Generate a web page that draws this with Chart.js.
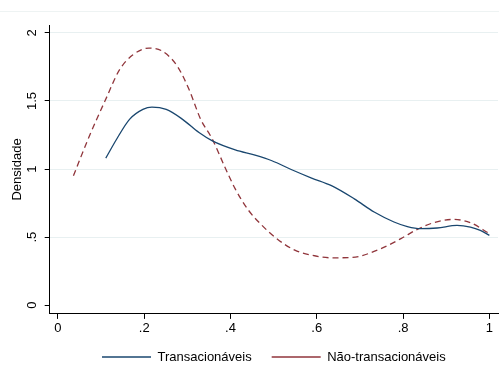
<!DOCTYPE html>
<html>
<head>
<meta charset="utf-8">
<script src="https://cdn.jsdelivr.net/npm/chart.js@4/dist/chart.umd.min.js"></script>
<style>
  html, body { margin: 0; padding: 0; background: #fff; }
  #wrap { width: 499px; height: 374px; }
</style>
</head>
<body>
<div id="wrap"><canvas id="densChart" width="499" height="374"></canvas></div>
<script>
// valores (densidade kernel)
const transX = [0.111, 0.136, 0.166, 0.197, 0.218, 0.251, 0.289, 0.327, 0.358, 0.411, 0.457, 0.496, 0.542, 0.588, 0.634, 0.687, 0.733, 0.779, 0.810, 0.841, 0.879, 0.925, 0.956, 0.979, 1.0];
const transY = [1.080, 1.219, 1.365, 1.438, 1.455, 1.438, 1.365, 1.268, 1.207, 1.141, 1.102, 1.061, 0.995, 0.934, 0.878, 0.781, 0.684, 0.611, 0.577, 0.562, 0.567, 0.586, 0.574, 0.550, 0.513];

const naoX = [0.036, 0.073, 0.109, 0.143, 0.174, 0.211, 0.243, 0.277, 0.304, 0.331, 0.358, 0.389, 0.411, 0.442, 0.473, 0.507, 0.549, 0.588, 0.634, 0.680, 0.749, 0.795, 0.833, 0.871, 0.917, 0.956, 1.0];
const naoY = [0.951, 1.243, 1.499, 1.730, 1.839, 1.888, 1.864, 1.754, 1.584, 1.365, 1.219, 1.000, 0.854, 0.696, 0.586, 0.489, 0.404, 0.367, 0.348, 0.350, 0.416, 0.489, 0.557, 0.606, 0.630, 0.606, 0.526];

const xTicks = [0, 0.2, 0.4, 0.6, 0.8, 1];
const yTicks = [0, 0.5, 1, 1.5, 2];
const seriesNames = ["Transacionáveis", "Não-transacionáveis"];

function toPoints(xs, ys) {
    var pts = [];
    for (let i = 0; i < xs.length; i++) {
        pts.push({ x: xs[i], y: ys[i] });
    }
    return pts;
}

function fmtTick(v) {
    if (v === 0 || v === 1 || v === 2) return String(v);
    var s = String(Math.round(v * 10) / 10);
    if (s.startsWith("0.")) s = s.substring(1);
    return s;
}

const navy = "#1a476f", maroon = "#90353b";
const font = { family: "'Liberation Sans', Arial, sans-serif", size: 13 };

// linha fina no topo + legenda um pouco mais perto do eixo x
const tweaks = {
    id: "tweaks",
    afterLayout(chart) {
        if (chart.legend) {
            chart.legend.top -= 8;
            chart.legend.bottom -= 8;
        }
    },
    beforeDraw(chart) {
        const ctx = chart.ctx;
        ctx.save();
        ctx.strokeStyle = "#eef3f3";
        ctx.lineWidth = 1;
        ctx.beginPath();
        ctx.moveTo(0, 11.5);
        ctx.lineTo(chart.width, 11.5);
        ctx.stroke();
        ctx.restore();
    }
};

Chart.defaults.font = font;
Chart.defaults.color = "#000";

new Chart(document.getElementById("densChart"), {
    type: "line",
    data: {
        datasets: [{
            label: seriesNames[0],
            data: toPoints(transX, transY),
            borderColor: navy,
            backgroundColor: navy,
            borderWidth: 1.3,
            pointRadius: 0,
            cubicInterpolationMode: "monotone",
            fill: false
        }, {
            label: seriesNames[1],
            data: toPoints(naoX, naoY),
            borderColor: maroon,
            backgroundColor: maroon,
            borderWidth: 1.3,
            borderDash: [6, 4],
            pointRadius: 0,
            cubicInterpolationMode: "monotone",
            fill: false
        }]
    },
    options: {
        responsive: false,
        animation: false,
        layout: { padding: { top: 25, right: 1, left: -3, bottom: 0.5 } },
        plugins: {
            tooltip: { enabled: false },
            legend: {
                position: "bottom",
                fullSize: false,
                maxHeight: 35,
                labels: {
                    usePointStyle: true,
                    pointStyle: "line",
                    pointStyleWidth: 49,
                    boxWidth: 49,
                    padding: 20,
                    font: font,
                    color: "#000"
                }
            }
        },
        scales: {
            x: {
                type: "linear",
                min: -0.019,
                max: 1.02,
                afterBuildTicks(axis) { axis.ticks = xTicks.map(v => ({ value: v })); },
                ticks: { callback: v => fmtTick(v), padding: 2, maxRotation: 0, autoSkip: false },
                grid: { drawOnChartArea: false, tickLength: 5, tickColor: "#000" },
                border: { color: "#000", width: 1 }
            },
            y: {
                type: "linear",
                min: -0.064,
                max: 2.058,
                afterBuildTicks(axis) { axis.ticks = yTicks.map(v => ({ value: v })); },
                ticks: { callback: v => fmtTick(v), padding: 3.5, minRotation: 90, maxRotation: 90, crossAlign: "center", autoSkip: false },
                grid: {
                    tickLength: 5,
                    tickColor: "#000",
                    color: c => (c.tick && c.tick.value === 0) ? "rgba(0,0,0,0)" : "#e8f0f1",
                    lineWidth: 1
                },
                border: { color: "#000", width: 1 },
                title: { display: true, text: "Densidade", font: font, padding: { top: 13, bottom: -3.5 } }
            }
        }
    },
    plugins: [tweaks]
});
</script>
</body>
</html>
